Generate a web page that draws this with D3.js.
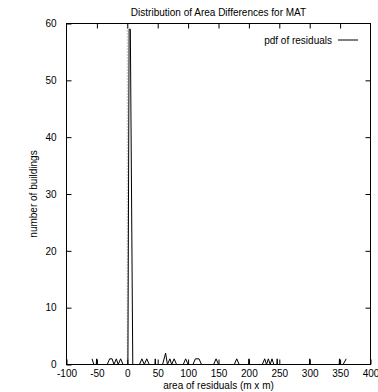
<!DOCTYPE html>
<html>
<head>
<meta charset="utf-8">
<script src="https://cdn.jsdelivr.net/npm/d3@7"></script>
<style>
  html, body { margin: 0; padding: 0; background: #fff; }
  text { font-family: "Liberation Sans", Arial, sans-serif; font-size: 10px; fill: #000; }
</style>
</head>
<body>
<svg id="chart" width="378" height="392"></svg>
<script>
// Residual area (m x m) and the number of buildings at each point of the pdf curve
const residualArea = [
  -58, -55, -51, -50.5, -50, -33, -29, -25, -22, -18, -15, -11, -7,
  1, 3, 5, 9,
  20, 24, 28, 32, 36, 45.5, 46, 46.5,
  58, 63, 66, 70, 73, 77, 81,
  92, 96, 100, 108, 112, 118, 122,
  142, 146, 150, 176, 180, 184,
  199.5, 200, 200.5,
  222, 226, 229, 232, 235, 238, 241,
  246, 246.5, 247,
  299.5, 300, 300.5,
  348.5, 349, 349.5, 355, 360
];
const buildingCount = [
  1, 0, 0, 1, 0, 0, 1, 1, 0, 1, 0, 1, 0,
  0, 59, 59, 0,
  0, 1, 0, 1, 0, 0, 1, 0,
  0, 2, 0, 1, 0, 1, 0,
  0, 1, 0, 0, 1, 1, 0,
  0, 1, 0, 0, 1, 0,
  0, 1, 0,
  0, 1, 0, 1, 0, 1, 0,
  0, 1, 0,
  0, 1, 0,
  0, 1, 0, 0, 1
];

const xTicks = [-100, -50, 0, 50, 100, 150, 200, 250, 300, 350, 400];
const yTicks = [0, 10, 20, 30, 40, 50, 60];

const titleText = "Distribution of Area Differences for MAT";
const xLabel = "area of residuals (m x m)";
const yLabel = "number of buildings";
const seriesName = "pdf of residuals";

const svg = d3.select("#chart");
const plotLeft = 66.5, plotRight = 370.5, plotTop = 23.5, plotBottom = 364.5;

const x = d3.scaleLinear().domain([-100, 400]).range([plotLeft, plotRight]);
const y = d3.scaleLinear().domain([0, 60]).range([plotBottom, plotTop]);
const tickLen = 5;
const plain = d => String(d);   // ASCII hyphen for negatives

// vertical zero axis (dotted)
svg.append("line")
  .attr("x1", x(0)).attr("x2", x(0))
  .attr("y1", y(0)).attr("y2", y(60))
  .attr("stroke", "#888").attr("stroke-width", 1)
  .attr("stroke-dasharray", "1,2");

// bottom axis with inward ticks and mirrored ticks on top
const gx = svg.append("g").attr("transform", `translate(0,${plotBottom})`)
  .call(d3.axisBottom(x).tickValues(xTicks).tickFormat(plain).tickSizeInner(-tickLen).tickSizeOuter(0).tickPadding(5));
const gxTop = svg.append("g").attr("transform", `translate(0,${plotTop})`)
  .call(d3.axisTop(x).tickValues(xTicks.slice(1, -1)).tickSizeInner(-tickLen).tickSizeOuter(0).tickFormat(""));
const gy = svg.append("g").attr("transform", `translate(${plotLeft},0)`)
  .call(d3.axisLeft(y).tickValues(yTicks).tickFormat(plain).tickSizeInner(-tickLen).tickSizeOuter(0).tickPadding(10));
const gyRight = svg.append("g").attr("transform", `translate(${plotRight},0)`)
  .call(d3.axisRight(y).tickValues(yTicks.slice(1, -1)).tickSizeInner(-tickLen).tickSizeOuter(0).tickFormat(""));

[gx, gxTop, gy, gyRight].forEach(g => {
  g.select(".domain").remove();
  g.selectAll("line").attr("stroke", "#000");
  g.selectAll("text").attr("font-family", "Liberation Sans, Arial, sans-serif").attr("font-size", 10).attr("fill", "#000");
});
gx.selectAll("text").attr("dy", "0.71em");

// plot frame
svg.append("rect")
  .attr("x", plotLeft).attr("y", plotTop)
  .attr("width", plotRight - plotLeft).attr("height", plotBottom - plotTop)
  .attr("fill", "none").attr("stroke", "#000").attr("stroke-width", 1);

// pdf curve
const pts = residualArea.map((v, i) => [v, buildingCount[i]]);
svg.append("path")
  .datum(pts)
  .attr("d", d3.line().x(d => x(d[0])).y(d => y(d[1])))
  .attr("fill", "none")
  .attr("stroke", "#000")
  .attr("stroke-width", 1);

// legend
svg.append("text").attr("x", 332).attr("y", 40).attr("dy", "0.35em")
  .attr("text-anchor", "end").text(seriesName);
svg.append("line").attr("x1", 338).attr("x2", 358).attr("y1", 40).attr("y2", 40)
  .attr("stroke", "#000").attr("stroke-width", 1);

// titles
svg.append("text").attr("x", (plotLeft + plotRight) / 2).attr("y", 12).attr("dy", "0.35em")
  .attr("text-anchor", "middle").text(titleText);
svg.append("text").attr("x", (plotLeft + plotRight) / 2).attr("y", 385).attr("dy", "0.35em")
  .attr("text-anchor", "middle").text(xLabel);
svg.append("text")
  .attr("transform", `translate(33,${(plotTop + plotBottom) / 2}) rotate(-90)`)
  .attr("dy", "0.35em").attr("text-anchor", "middle").text(yLabel);
</script>
</body>
</html>
